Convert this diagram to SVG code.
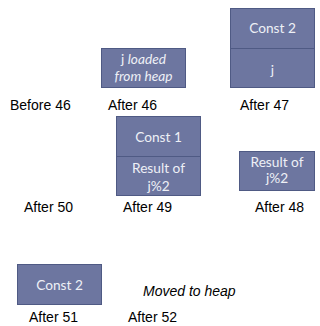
<svg xmlns="http://www.w3.org/2000/svg" width="320" height="326" viewBox="0 0 320 326">
<style>
.box{fill:#6d76a0;stroke:#4f5a84;stroke-width:1}
.div{stroke:#4f5a84;stroke-width:1}
.bt{font-family:Lato,"Open Sans",sans-serif;font-size:13.7px;fill:#eef0f6;text-anchor:middle}
.it{font-style:italic}
.lbl{font-family:"Liberation Sans",Arial,sans-serif;font-size:14px;fill:#000}
</style>
<rect width="320" height="326" fill="#fff"/>
<g id="before46"><text class="lbl" x="10" y="110">Before 46</text></g>
<g id="after46">
<rect class="box" x="101.5" y="48.5" width="84" height="39"/>
<text class="bt" x="143.5" y="64">j <tspan class="it">loaded</tspan></text>
<text class="bt it" x="143.5" y="81">from heap</text>
<text class="lbl" x="108" y="110">After 46</text>
</g>
<g id="after47">
<rect class="box" x="230.5" y="8.5" width="84" height="79"/>
<line class="div" x1="230.5" y1="48.5" x2="314.5" y2="48.5"/>
<text class="bt" x="272.5" y="33">Const 2</text>
<text class="bt" x="272.5" y="75">j</text>
<text class="lbl" x="240" y="110">After 47</text>
</g>
<g id="after50"><text class="lbl" x="24" y="212">After 50</text></g>
<g id="after49">
<rect class="box" x="116.5" y="116.5" width="84" height="79"/>
<line class="div" x1="116.5" y1="156.5" x2="200.5" y2="156.5"/>
<text class="bt" x="158.5" y="141.5">Const 1</text>
<text class="bt" x="158.5" y="173">Result of</text>
<text class="bt" x="158.5" y="190.5">j%2</text>
<text class="lbl" x="123" y="212">After 49</text>
</g>
<g id="after48">
<rect class="box" x="239.5" y="151.5" width="75" height="39"/>
<text class="bt" x="277" y="166.5">Result of</text>
<text class="bt" x="277" y="183">j%2</text>
<text class="lbl" x="255" y="212">After 48</text>
</g>
<g id="after51">
<rect class="box" x="17.5" y="264.5" width="84" height="40"/>
<text class="bt" x="59.5" y="290">Const 2</text>
<text class="lbl" x="29" y="322">After 51</text>
</g>
<g id="after52">
<text class="lbl it" x="143" y="296">Moved to heap</text>
<text class="lbl" x="128" y="322">After 52</text>
</g>
<g id="connectors"></g>
</svg>
